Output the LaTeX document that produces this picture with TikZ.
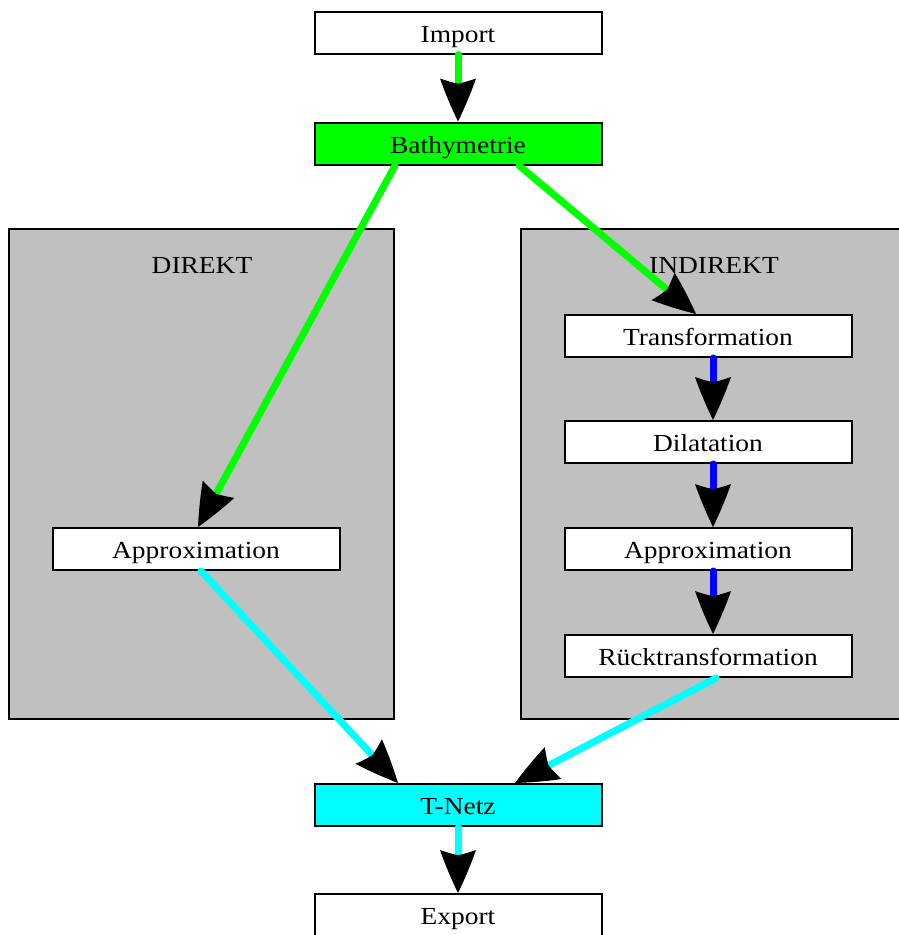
\documentclass[tikz,border=0pt]{standalone}
\usepackage{fontspec}
\setmainfont{Liberation Serif}[FakeStretch=1.12]
\usetikzlibrary{arrows.meta,calc}
\definecolor{gvgreen}{RGB}{0,255,0}
\definecolor{gvblue}{RGB}{0,0,255}
\definecolor{gvcyan}{RGB}{0,255,255}
\definecolor{gvgray}{RGB}{192,192,192}
\pgfdeclarearrow{
  name = GV,
  parameters = {\the\pgfarrowlength,\the\pgfarrowwidth},
  setup code = {
    \pgfarrowssettipend{0pt}
    \pgfarrowssetbackend{-\pgfarrowlength}
    \pgfarrowssetlineend{-0.8\pgfarrowlength}
    \pgfarrowssavethe\pgfarrowlength
    \pgfarrowssavethe\pgfarrowwidth
  },
  drawing code = {
    \pgfpathmoveto{\pgfqpoint{0pt}{0pt}}
    \pgfpathquadraticcurveto{\pgfqpoint{-0.5\pgfarrowlength}{0.29\pgfarrowwidth}}{\pgfqpoint{-\pgfarrowlength}{0.5\pgfarrowwidth}}
    \pgfpathquadraticcurveto{\pgfqpoint{-0.9\pgfarrowlength}{0.15\pgfarrowwidth}}{\pgfqpoint{-0.88\pgfarrowlength}{0pt}}
    \pgfpathquadraticcurveto{\pgfqpoint{-0.9\pgfarrowlength}{-0.15\pgfarrowwidth}}{\pgfqpoint{-\pgfarrowlength}{-0.5\pgfarrowwidth}}
    \pgfpathquadraticcurveto{\pgfqpoint{-0.5\pgfarrowlength}{-0.29\pgfarrowwidth}}{\pgfqpoint{0pt}{0pt}}
    \pgfpathclose
    \pgfusepathqfill
  },
  defaults = {length=43pt, width=36pt}
}
\tikzset{
  box/.style={draw=black, line width=2pt, fill=white, minimum width=287pt, minimum height=42pt, inner sep=0pt, text height=22pt, text depth=3pt, font=\fontsize{24.5}{28}\selectfont},
  cluster/.style={draw=black, line width=2pt, fill=gvgray, inner sep=0pt},
  lbl/.style={font=\fontsize{24.5}{28}\selectfont, inner sep=0pt, text height=20pt, text depth=2pt},
  edge/.style={line width=7pt, line cap=round, -{GV[black]}},
}
\begin{document}
\begin{tikzpicture}[x=1pt,y=-1pt]
\useasboundingbox (0,0) rectangle (899,935);
% clusters
\node[cluster, minimum width=385pt, minimum height=490pt] (direkt) at (201.5,474) {};
\node[cluster, minimum width=386pt, minimum height=490pt] (indirekt) at (714,474) {};
\node[lbl] (direktlbl) at (202,264) {DIREKT};
\node[lbl] (indirektlbl) at (714,264) {INDIREKT};
% nodes
\node[box] (import) at (458,32.5) {Import};
\node[box, fill=gvgreen] (bathy) at (458,143.5) {Bathymetrie};
\node[box] (trans) at (708,336) {Transformation};
\node[box] (dil) at (708,442) {Dilatation};
\node[box] (appR) at (708,549) {Approximation};
\node[box] (rueck) at (708,656) {Rücktransformation};
\node[box] (appL) at (196,549) {Approximation};
\node[box, fill=gvcyan] (tnetz) at (458,805) {T-Netz};
\node[box] (export) at (458,915) {Export};
% edges
\draw[edge, gvgreen] (import.south) -- (bathy.north);
\draw[edge, gvgreen] ($(bathy.south)+(-63,0)$) -- ($(appL.north)+(2,0)$);
\draw[edge, gvgreen] ($(bathy.south)+(61,0)$) -- ($(trans.north)+(-12,0)$);
\draw[edge, gvblue] ($(trans.south)+(5,0)$) -- ($(dil.north)+(5,0)$);
\draw[edge, gvblue] ($(dil.south)+(5,0)$) -- ($(appR.north)+(5,0)$);
\draw[edge, gvblue] ($(appR.south)+(5,0)$) -- ($(rueck.north)+(5,0)$);
\draw[edge, gvcyan] ($(appL.south)+(5,0)$) -- ($(tnetz.north)+(-60,0)$);
\draw[edge, gvcyan] ($(rueck.south)+(8,0)$) -- ($(tnetz.north)+(57,0)$);
\draw[edge, gvcyan] (tnetz.south) -- (export.north);
\end{tikzpicture}
\end{document}
